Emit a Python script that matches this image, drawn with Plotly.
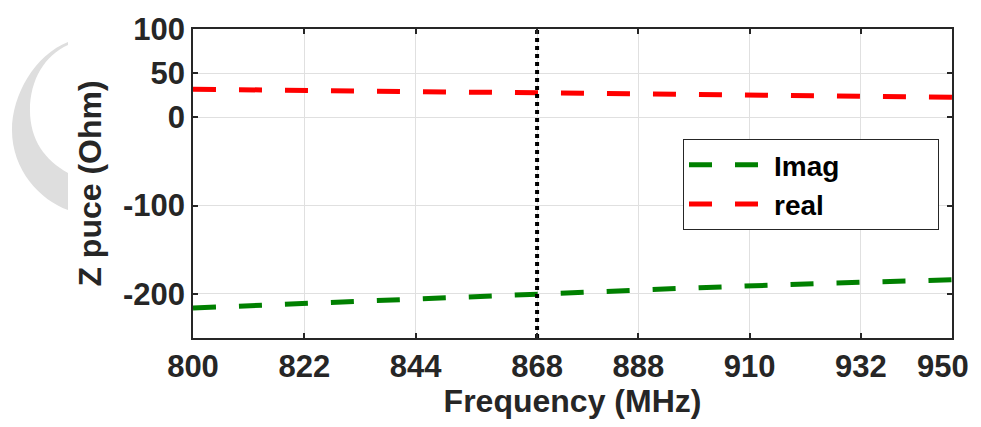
import plotly.graph_objects as go

# ---- data ----
freq = [800, 825, 850, 875, 900, 925, 950]
z_imag = [-216, -210, -204.5, -198.5, -193, -188, -184]
z_real = [31.8, 30.2, 28.5, 26.7, 25.2, 23.9, 22.7]
marker_freq = 868
x_ticks = [800, 822, 844, 868, 888, 910, 932, 950]
y_ticks = [-200, -100, 0, 50, 100]
y_ticktext = ["-200", "-100", "0", "50", "100"]
legend_names = ["Imag", "real"]

OFF = 8  # page body margin
W, H = 981 - OFF, 427 - 2 * OFF
# plot area in window pixels
PL, PR, PT, PB = 193, 952, 29, 338
PW, PH = PR - PL, PB - PT

def px(x, y):
    return (x - PL) / PW, (PB - y) / PH

def path(pts):
    s = ""
    for cmd, coords in pts:
        s += cmd + " " + " ".join("%.4f,%.4f" % px(*c) for c in coords) + " "
    return s + "Z"

FONT = "Liberation Sans, Arial"
DARK = "#262626"
PAD = "\u00a0" * 12
TICKFONT = dict(family=FONT, size=31, color=DARK, weight="bold")

fig = go.Figure()
fig.add_trace(go.Scatter(x=freq, y=z_imag, mode="lines", name=legend_names[0] + PAD,
                         line=dict(color="#008000", width=5, dash="23px,23px")))
fig.add_trace(go.Scatter(x=freq, y=z_real, mode="lines", name=legend_names[1] + PAD,
                         line=dict(color="#ff0000", width=5, dash="23px,23px")))
fig.add_trace(go.Scatter(x=[marker_freq, marker_freq], y=[-250, 100], mode="lines",
                         showlegend=False, line=dict(color="black", width=4, dash="dot")))

crescent = path([
    ("M", [(68, 42)]),
    ("C", [(35, 55), (12, 95), (12, 130)]),
    ("C", [(12, 170), (40, 200), (68, 210)]),
    ("L", [(68, 173)]),
    ("C", [(45, 160), (30, 140), (30, 110)]),
    ("C", [(30, 80), (45, 55), (68, 45)]),
])
fig.add_shape(type="path", path=crescent, xref="paper", yref="paper",
              fillcolor="#dedede", line=dict(width=0), layer="below")

axis_common = dict(
    showline=True, linecolor=DARK, linewidth=1.5, mirror="ticks",
    ticks="inside", ticklen=5, tickwidth=1.5, tickcolor=DARK,
    showgrid=True, gridcolor="#e0e0e0", gridwidth=1, zeroline=False,
    tickfont=TICKFONT,
)
# last x tick label drawn as an annotation so it stays inside the page
x_ticktext = [str(t) for t in x_ticks[:-1]] + [""]
fig.update_xaxes(range=[800, 950], tickvals=x_ticks, ticktext=x_ticktext,
                 title=dict(text="Frequency (MHz)", standoff=12,
                            font=dict(family=FONT, size=32, color=DARK, weight="bold")),
                 **axis_common)
fig.add_annotation(x=x_ticks[-1], y=0, xref="x", yref="paper", text=str(x_ticks[-1]),
                   showarrow=False, xanchor="right", yanchor="top", xshift=19, yshift=-9,
                   font=TICKFONT)
fig.update_yaxes(range=[-250, 100], tickvals=y_ticks, ticktext=y_ticktext,
                 title=dict(text="Z puce (Ohm)", standoff=12,
                            font=dict(family=FONT, size=32, color=DARK, weight="bold")),
                 **axis_common)

fig.update_layout(
    width=W, height=H,
    margin=dict(l=PL - OFF, r=W - (PR - OFF), t=PT - OFF, b=H - (PB - OFF), autoexpand=False),
    plot_bgcolor="white", paper_bgcolor="white",
    legend=dict(x=(683 - PL) / PW, y=(PB - 139) / PH, xanchor="left", yanchor="top",
                bordercolor=DARK, borderwidth=1, bgcolor="white", itemwidth=80,
                tracegroupgap=0,
                font=dict(family=FONT, size=28, color="black", weight="bold")),
)
fig.write_html("out.html")
